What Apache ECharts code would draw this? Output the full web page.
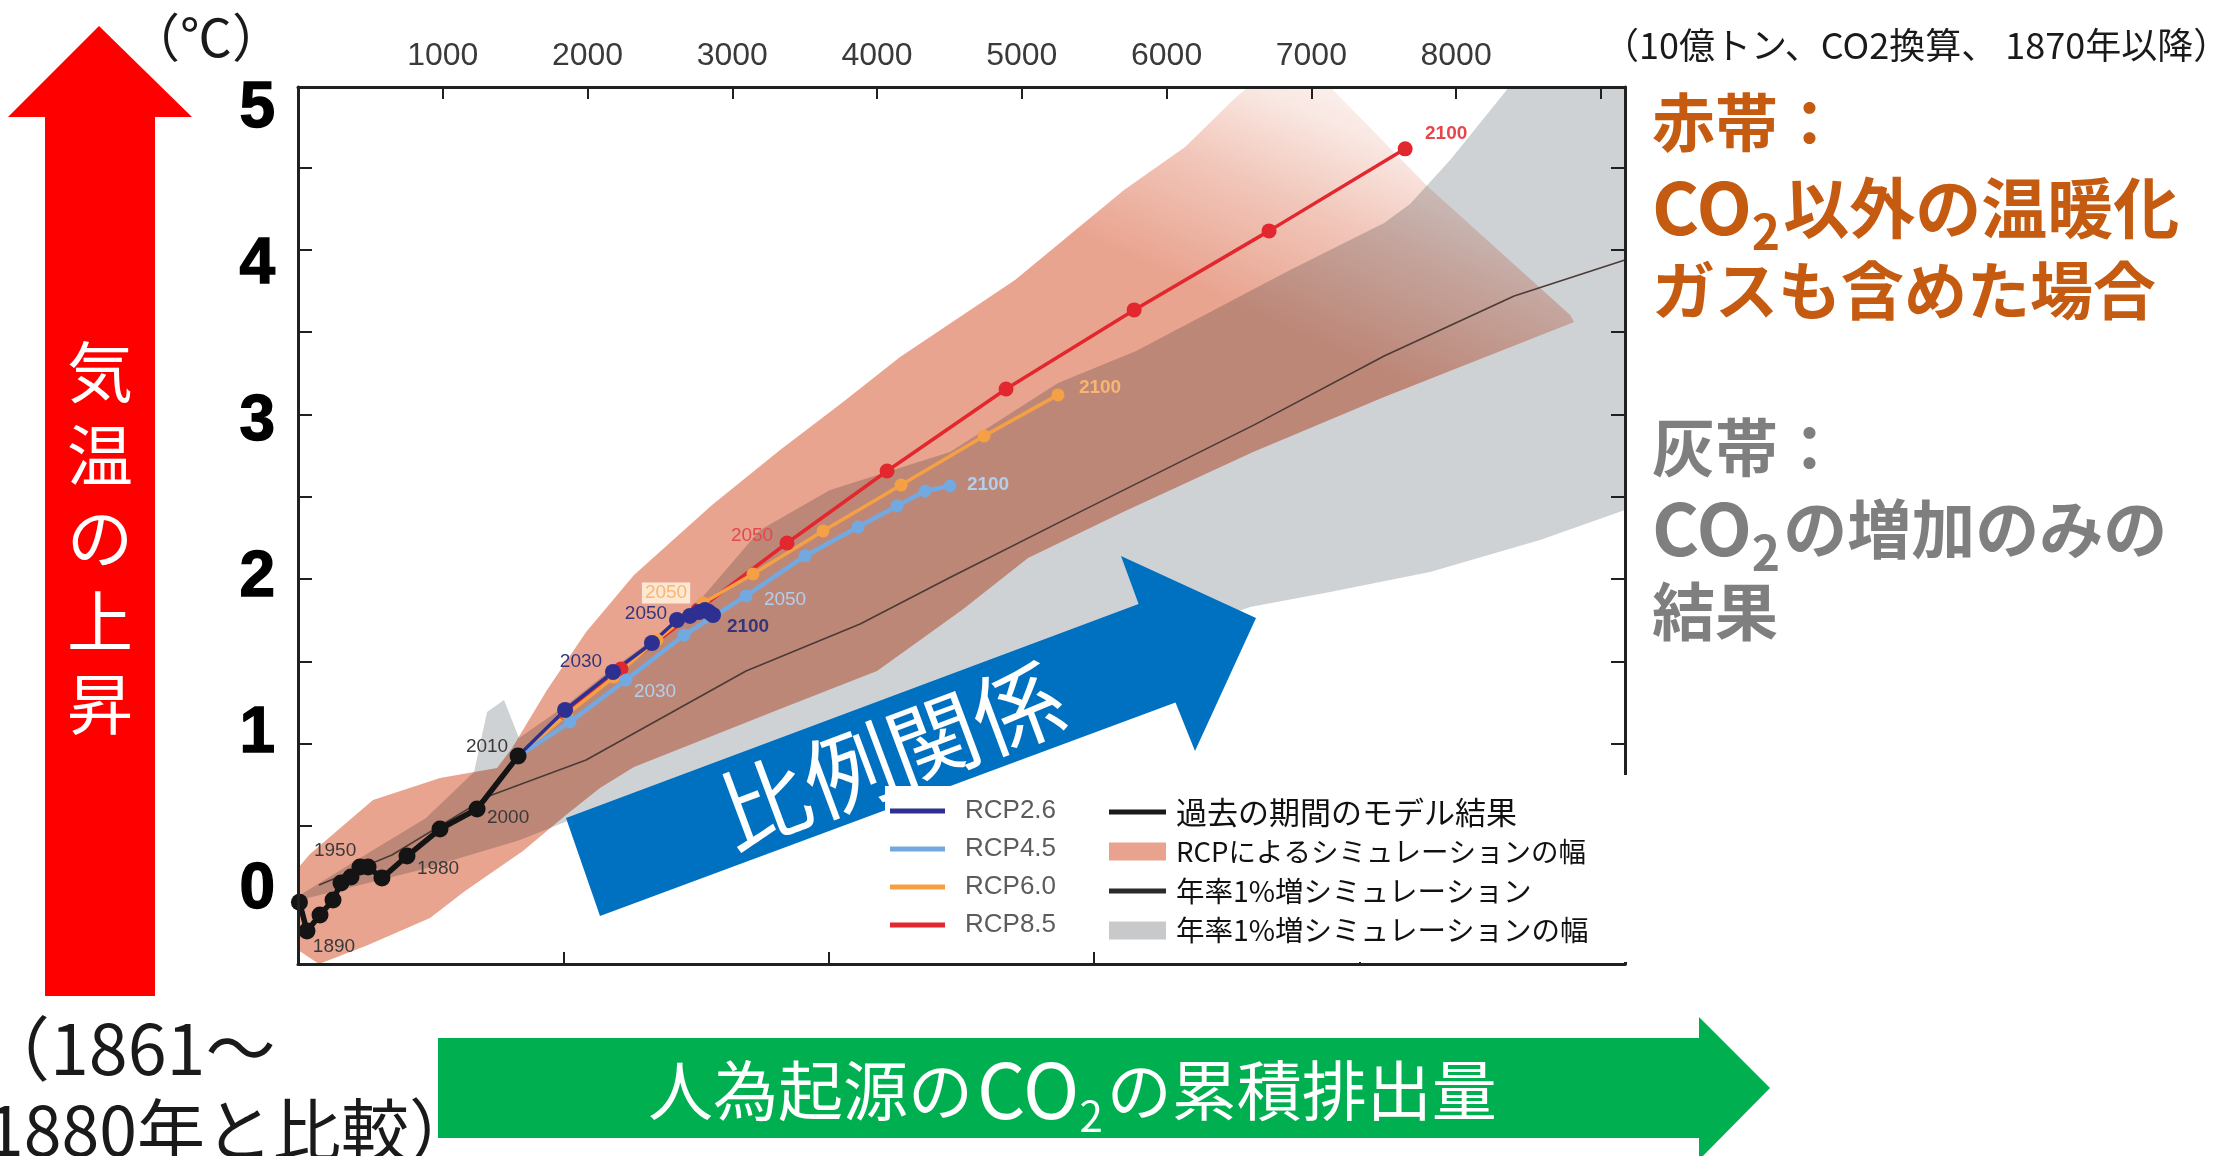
<!DOCTYPE html>
<html lang="ja">
<head>
<meta charset="utf-8">
<title>累積CO2排出量と気温上昇</title>
<script src="https://cdn.jsdelivr.net/npm/echarts@6/dist/echarts.min.js"></script>
<style>
  html, body { margin: 0; padding: 0; background: #ffffff; }
  #chart { width: 2217px; height: 1156px; }
</style>
</head>
<body>
<div id="chart"></div>
<script>
// ---------- axes: cumulative CO2 (GtCO2 since 1870) vs warming (°C) ----------
const X_MAX = 9166.67;                 // 2500 GtC expressed in GtCO2
const Y_MIN = -0.512;
const Y_MAX = 5.102;
const xTopTicks    = [1000, 2000, 3000, 4000, 5000, 6000, 7000, 8000, 9000];
const xTopLabels   = [1000, 2000, 3000, 4000, 5000, 6000, 7000, 8000];
const xBottomTicks = [1833.33, 3666.67, 5500, 7333.33];   // every 500 GtC
const yLabels      = [0, 1, 2, 3, 4, 5];
const yTickMarks   = [0.373, 0.899, 1.426, 1.953, 2.480, 3.007, 3.534, 4.061, 4.588];

// ---------- historical model result ----------
const histCO2  = [10, 62, 152, 242, 297, 366, 428, 484, 580, 753, 981, 1237, 1520];
const histTemp = [-0.116, -0.301, -0.198, -0.102, 0.006, 0.045, 0.109, 0.109, 0.038, 0.179, 0.352, 0.480, 0.819];
const histYearLabels = { 1: '1890', 7: '1950', 10: '1980', 11: '2000', 12: '2010' };

// ---------- RCP scenarios, 2010-2100 by decade ----------
const rcpYears  = [2010, 2020, 2030, 2040, 2050, 2060, 2070, 2080, 2090, 2100];
const rcp26CO2  = [1520, 1845, 2176, 2445, 2618, 2708, 2770, 2812, 2839, 2867];
const rcp26Temp = [0.819, 1.114, 1.357, 1.543, 1.690, 1.716, 1.741, 1.754, 1.741, 1.722];
const rcp45CO2  = [1520, 1879, 2266, 2667, 3095, 3503, 3869, 4138, 4332, 4504];
const rcp45Temp = [0.819, 1.037, 1.306, 1.594, 1.844, 2.100, 2.286, 2.420, 2.516, 2.548];
const rcp60CO2  = [1520, 1858, 2183, 2480, 2798, 3143, 3627, 4166, 4739, 5250];
const rcp60Temp = [0.819, 1.088, 1.325, 1.562, 1.799, 1.985, 2.260, 2.554, 2.868, 3.131];
const rcp85CO2  = [1520, 1851, 2231, 2763, 3378, 4069, 4891, 5776, 6708, 7648];
const rcp85Temp = [0.819, 1.095, 1.376, 1.754, 2.183, 2.644, 3.169, 3.675, 4.181, 4.706];
const rcp26Labelled = [2030, 2050, 2100];
const rcp45Labelled = [2030, 2050, 2100];
const rcp60Labelled = [2050, 2100];
const rcp85Labelled = [2050, 2100];

// ---------- 1 %/yr CO2 increase simulation ----------
const pctCO2  = [145, 649, 1320, 1990, 3095, 3883, 4497, 5402, 6605, 7503, 8401, 9166];
const pctTemp = [-0.006, 0.186, 0.563, 0.794, 1.364, 1.665, 1.959, 2.382, 2.939, 3.380, 3.764, 3.995];

// ---------- ranges: upper and lower edges, left to right ----------
const pctRangeUpper = [[14, -0.070], [497, 0.205], [884, 0.423], [1216, 0.717], [1306, 1.101], [1423, 1.178],
  [1527, 0.935], [1845, 1.140], [2176, 1.383], [2446, 1.562], [2777, 1.818], [3192, 2.266], [3675, 2.522],
  [4504, 2.766], [5250, 3.207], [5789, 3.412], [6853, 3.931], [7503, 4.232], [7682, 4.353], [7959, 4.635],
  [8366, 5.102], [9166.67, 5.102]];
const pctRangeLower = [[14, -0.102], [843, 0.090], [1534, 0.282], [1879, 0.410], [2225, 0.506], [2777, 0.666],
  [4159, 1.018], [5541, 1.434], [6577, 1.773], [7130, 1.869], [7820, 1.997], [8580, 2.202], [9166.67, 2.394]];
const rcpRangeUpper = [[0, 0.102], [83, 0.192], [518, 0.538], [981, 0.679], [1375, 0.743], [1479, 0.871],
  [1720, 1.242], [1990, 1.613], [2321, 1.978], [2860, 2.426], [3330, 2.779], [3765, 3.086], [4159, 3.374],
  [4953, 3.867], [5706, 4.443], [6128, 4.718], [6459, 5.019], [6563, 5.102], [7130, 5.102], [7800, 4.469],
  [8788, 3.643], [8815, 3.598]];
const rcpRangeLower = [[0, -0.423], [145, -0.512], [484, -0.391], [912, -0.218], [1154, -0.045], [1554, 0.211],
  [1851, 0.442], [2086, 0.615], [2321, 0.749], [2826, 0.935], [3330, 1.120], [4000, 1.364], [4587, 1.754],
  [5043, 2.087], [5700, 2.382], [6598, 2.766], [7503, 3.118], [8815, 3.598]];

// ---------- styling ----------
const CJK = '"Noto Sans CJK JP", "Noto Sans CJK SC", sans-serif';
const LATIN = '"Liberation Sans", Arial, sans-serif';
const COLORS = {
  hist: '#141414', rcp26: '#2d3091', rcp45: '#72a9e0', rcp60: '#f5a044', rcp85: '#e3272e',
  pct: '#4b3b36', pctRange: '#cfd2d5', rcpRange: 'rgb(233,164,144)'
};
// label offsets (px) relative to the labelled point
const labelOffsets = {
  hist:  { 1: [27, 16], 7: [-33, -16], 10: [-2, 40], 11: [31, 9], 12: [-31, -9] },
  rcp26: { 2030: [-32, -10], 2050: [-31, -6], 2100: [35, 12] },
  rcp45: { 2030: [29, 12], 2050: [39, 4], 2100: [38, -1] },
  rcp60: { 2050: [-37, -10], 2100: [42, -7] },
  rcp85: { 2050: [-35, -7], 2100: [41, -15] }
};
const labelStyles = {
  hist:  { color: '#3a3a3a' },
  rcp26: { color: '#35357d' },
  rcp45: { color: '#b2cfee' },
  rcp60: { color: '#f7b672' },
  rcp85: { color: '#e4474c' }
};
// legend text sizes (katakana-heavy entries are set a little smaller)
const legendTextSize = {
  '過去の期間のモデル結果': 31,
  'RCPによるシミュレーションの幅': 27.5,
  '年率1%増シミュレーション': 28.5,
  '年率1%増シミュレーションの幅': 28.5
};

function pointItems(key, xs, ys, labelFor) {
  return xs.map((x, i) => {
    const item = { value: [x, ys[i]] };
    const text = labelFor(i);
    if (text) {
      const off = labelOffsets[key][key === 'hist' ? i : text];
      const bold = text === '2100';
      item.label = Object.assign({
        show: true, position: 'inside', formatter: text, offset: off,
        fontFamily: LATIN, fontSize: 19, fontWeight: bold ? 'bold' : 'normal'
      }, labelStyles[key]);
      if (key === 'rcp60' && text === '2050') {
        item.label.backgroundColor = '#fde8d4';
        item.label.padding = [1, 3];
      }
    }
    return item;
  });
}
function rcpLabel(list) {
  return i => (list.indexOf(rcpYears[i]) >= 0 ? String(rcpYears[i]) : null);
}

function lineSeries(name, key, xs, ys, labelFor, width, size, z) {
  return {
    name, type: 'line', z, silent: true,
    data: pointItems(key, xs, ys, labelFor),
    symbol: 'circle', symbolSize: size, showSymbol: true,
    lineStyle: { color: COLORS[key], width },
    itemStyle: { color: COLORS[key] },
    emphasis: { disabled: true }
  };
}

function bandSeries(name, upper, lower, color, fade) {
  const poly = upper.concat(lower.slice().reverse());
  return {
    name, type: 'custom', z: 1, silent: true,
    coordinateSystem: 'cartesian2d',
    blendMode: fade ? 'multiply' : 'source-over',
    itemStyle: { color },
    data: [poly[0]],
    renderItem: (params, api) => {
      const pts = poly.map(p => api.coord(p));
      let fill = color;
      if (fade) {
        // the RCP range thins out towards the upper right of the plot
        const p0 = api.coord([7750, 5.25]);
        const p1 = api.coord([6920, 3.53]);
        fill = new echarts.graphic.LinearGradient(p0[0], p0[1], p1[0], p1[1], [
          { offset: 0, color: 'rgba(233,164,144,0.05)' },
          { offset: 0.3, color: 'rgba(233,164,144,0.25)' },
          { offset: 0.6, color: 'rgba(233,164,144,0.62)' },
          { offset: 1, color: 'rgba(233,164,144,1)' }
        ], true);
      }
      return { type: 'polygon', shape: { points: pts }, style: { fill } };
    }
  };
}

// ---------- text layout helper for runs with subscripts ----------
const measureCtx = document.createElement('canvas').getContext('2d');
function textRun(x, y, parts, weight, color, z) {
  const els = [];
  let cx = x;
  parts.forEach(p => {
    const font = `${weight} ${p.size}px ${CJK}`;
    els.push({
      type: 'text', x: cx, y: y + (p.dy || 0), z,
      style: { text: p.t, font, fill: color, align: 'left', verticalAlign: 'middle' }
    });
    measureCtx.font = font;
    cx += measureCtx.measureText(p.t).width + (p.gap || 0);
  });
  return els;
}

// ---------- decorations ----------
const ORANGE = '#c55a11', GREY = '#7f7f7f';
const graphics = [
  // red "temperature rise" arrow
  { type: 'polygon', z: 10, shape: { points: [[45, 996], [45, 117], [8, 117], [99, 26], [192, 117], [155, 117], [155, 996]] },
    style: { fill: '#ff0000' } },
  { type: 'text', x: 100, y: 538, z: 11,
    style: { text: '気\n温\nの\n上\n昇', font: `normal 66px ${CJK}`, lineHeight: 83, fill: '#ffffff', align: 'center', verticalAlign: 'middle' } },
  { type: 'text', x: 206, y: 37, z: 11,
    style: { text: '（℃）', font: `normal 52px ${CJK}`, fill: '#1a1a1a', align: 'center', verticalAlign: 'middle' } },
  { type: 'text', x: -20, y: 1048, z: 11,
    style: { text: '（1861～', font: `normal 70px ${CJK}`, fill: '#1a1a1a', align: 'left', verticalAlign: 'middle' } },
  { type: 'text', x: -14, y: 1130, z: 11,
    style: { text: '1880年と比較）', font: `normal 68px ${CJK}`, fill: '#1a1a1a', align: 'left', verticalAlign: 'middle' } },
  // green "cumulative emissions" arrow
  { type: 'polygon', z: 10, shape: { points: [[438, 1038], [1699, 1038], [1699, 1017], [1770, 1088], [1699, 1160], [1699, 1138], [438, 1138]] },
    style: { fill: '#00b050' } },
  ...textRun(648, 1090, [{ t: '人為起源の', size: 65, gap: 4 }, { t: 'CO', size: 76 }, { t: '2', size: 42, dy: 26, gap: 4 }, { t: 'の累積排出量', size: 65 }], 'normal', '#ffffff', 11),
  // units note
  { type: 'text', x: 1603, y: 45, z: 11,
    style: { text: '（10億トン、CO2換算、 1870年以降）', font: `normal 36px ${CJK}`, fill: '#1a1a1a', align: 'left', verticalAlign: 'middle' } },
  // band explanations
  ...textRun(1652, 122, [{ t: '赤帯：', size: 63 }], 'bold', ORANGE, 11),
  ...textRun(1652, 208, [{ t: 'CO', size: 72 }, { t: '2', size: 48, dy: 24, gap: 3 }, { t: '以外の温暖化', size: 66 }], 'bold', ORANGE, 11),
  ...textRun(1652, 290, [{ t: 'ガスも含めた場合', size: 63 }], 'bold', ORANGE, 11),
  ...textRun(1652, 447, [{ t: '灰帯：', size: 63 }], 'bold', GREY, 11),
  ...textRun(1652, 529, [{ t: 'CO', size: 72 }, { t: '2', size: 48, dy: 24, gap: 3 }, { t: 'の増加のみの', size: 64 }], 'bold', GREY, 11),
  ...textRun(1652, 611, [{ t: '結果', size: 63 }], 'bold', GREY, 11),
  // blue "proportional" arrow across the plot
  { type: 'polygon', z: 6, shape: { points: [[600, 916], [566, 818], [1138.6, 604], [1121, 556], [1256, 618], [1195, 751], [1175.5, 702.5]] },
    style: { fill: '#0070c0' } },
  { type: 'text', x: 891, y: 755, rotation: 0.357, z: 6,
    style: { text: '比例関係', font: `normal 90px ${CJK}`, fill: '#ffffff', align: 'center', verticalAlign: 'middle' } },
  // legend backgrounds
  { type: 'rect', z: 7, shape: { x: 885, y: 786, width: 288, height: 164 }, style: { fill: '#ffffff' } },
  { type: 'rect', z: 7, shape: { x: 1173, y: 775, width: 457, height: 187 }, style: { fill: '#ffffff' } }
];

// thin horizontal bar icon, vertically centred in the legend icon box
const BAR_ICON = 'path://M0,0L0,0M0,6.5H57V11.5H0ZM57,18L57,18';

const axisLineStyle = { color: '#202020', width: 3 };
const tickStyle = { color: '#202020', width: 2 };

const legendRich = {};
Object.keys(legendTextSize).forEach((name, i) => {
  legendRich['s' + i] = { fontFamily: CJK, fontSize: legendTextSize[name], lineHeight: 32, color: '#111111' };
});

const option = {
  animation: false,
  backgroundColor: '#ffffff',
  grid: { left: 298, top: 87, width: 1327, height: 877, containLabel: false },
  xAxis: [
    { type: 'value', position: 'bottom', min: 0, max: X_MAX, z: 5,
      axisLine: { show: true, onZero: false, lineStyle: axisLineStyle },
      axisTick: { show: true, inside: true, length: 12, customValues: xBottomTicks, lineStyle: tickStyle },
      axisLabel: { show: false }, splitLine: { show: false } },
    { type: 'value', position: 'top', min: 0, max: X_MAX, z: 5,
      axisLine: { show: true, onZero: false, lineStyle: axisLineStyle },
      axisTick: { show: true, inside: true, length: 12, customValues: xTopTicks, lineStyle: tickStyle },
      axisLabel: { show: true, customValues: xTopLabels, formatter: v => String(v),
        fontFamily: LATIN, fontSize: 32, color: '#3a3a3a', margin: 15 },
      splitLine: { show: false } }
  ],
  yAxis: [
    { type: 'value', position: 'left', min: Y_MIN, max: Y_MAX, z: 5,
      axisLine: { show: true, onZero: false, lineStyle: axisLineStyle },
      axisTick: { show: true, inside: true, length: 14, customValues: yTickMarks, lineStyle: tickStyle },
      axisLabel: { show: true, customValues: yLabels, formatter: v => `{n|${v}}`, margin: 23,
        rich: { n: { fontFamily: LATIN, fontSize: 64, fontWeight: 'bold', color: '#000000',
          textBorderColor: '#000000', textBorderWidth: 1.4, padding: [13, 0, 0, 0] } } },
      splitLine: { show: false } },
    { type: 'value', position: 'right', min: Y_MIN, max: Y_MAX, z: 5,
      axisLine: { show: true, onZero: false, lineStyle: axisLineStyle },
      axisTick: { show: true, inside: true, length: 14, customValues: yTickMarks, lineStyle: tickStyle },
      axisLabel: { show: false }, splitLine: { show: false } }
  ],
  legend: [
    { orient: 'vertical', left: 890, top: 798, padding: 0, z: 8, selectedMode: false,
      itemWidth: 55, itemHeight: 5, itemGap: 12, icon: 'rect',
      textStyle: { fontFamily: LATIN, fontSize: 26, lineHeight: 26, color: '#5c5c5c', padding: [0, 0, 0, 15] },
      data: ['RCP2.6', 'RCP4.5', 'RCP6.0', 'RCP8.5'] },
    { orient: 'vertical', left: 1109, top: 796, padding: 0, z: 8, selectedMode: false,
      itemWidth: 57, itemHeight: 18, itemGap: 7.5,
      formatter: name => `{s${Object.keys(legendTextSize).indexOf(name)}|${name}}`,
      textStyle: { fontFamily: CJK, fontSize: 31, lineHeight: 32, color: '#111111', padding: [0, 0, 0, 5], rich: legendRich },
      data: [
        { name: '過去の期間のモデル結果', icon: BAR_ICON, itemStyle: { color: '#1a1a1a' } },
        { name: 'RCPによるシミュレーションの幅', icon: 'rect', itemStyle: { color: '#e9a28d' } },
        { name: '年率1%増シミュレーション', icon: BAR_ICON, itemStyle: { color: '#2a2a2a' } },
        { name: '年率1%増シミュレーションの幅', icon: 'rect', itemStyle: { color: '#c8c9cb' } }
      ] }
  ],
  series: [
    bandSeries('年率1%増シミュレーションの幅', pctRangeUpper, pctRangeLower, COLORS.pctRange, false),
    bandSeries('RCPによるシミュレーションの幅', rcpRangeUpper, rcpRangeLower, COLORS.rcpRange, true),
    { name: '年率1%増シミュレーション', type: 'line', z: 2, silent: true,
      data: pctCO2.map((x, i) => [x, pctTemp[i]]), showSymbol: false, symbol: 'none',
      lineStyle: { color: COLORS.pct, width: 1.6 }, itemStyle: { color: COLORS.pct }, emphasis: { disabled: true } },
    lineSeries('RCP8.5', 'rcp85', rcp85CO2, rcp85Temp, rcpLabel(rcp85Labelled), 3.5, 15, 3),
    lineSeries('RCP6.0', 'rcp60', rcp60CO2, rcp60Temp, rcpLabel(rcp60Labelled), 3.5, 13, 3),
    lineSeries('RCP4.5', 'rcp45', rcp45CO2, rcp45Temp, rcpLabel(rcp45Labelled), 4.5, 13, 3),
    lineSeries('RCP2.6', 'rcp26', rcp26CO2, rcp26Temp, rcpLabel(rcp26Labelled), 3.5, 16, 3),
    lineSeries('過去の期間のモデル結果', 'hist', histCO2, histTemp, i => histYearLabels[i] || null, 5.5, 17, 4)
  ],
  graphic: { elements: graphics }
};

const chart = echarts.init(document.getElementById('chart'), null, { renderer: 'canvas' });
chart.setOption(option);
</script>
</body>
</html>
